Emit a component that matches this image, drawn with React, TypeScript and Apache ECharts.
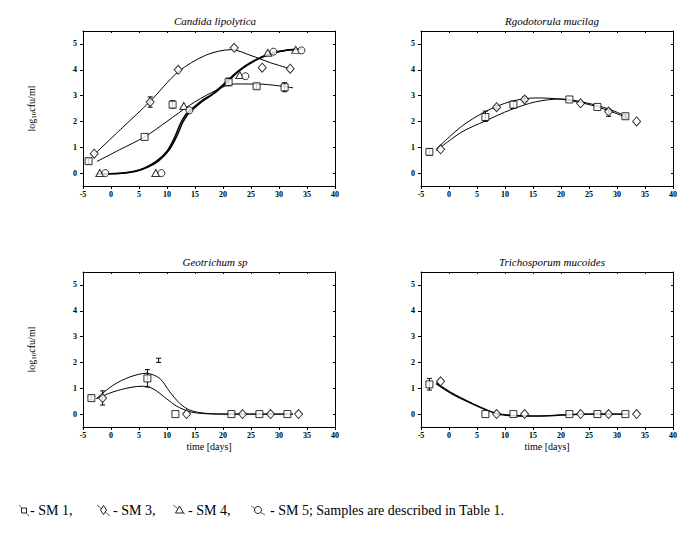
import React, { useEffect, useRef } from 'react';
import * as echarts from 'echarts';

const FONT = "'Liberation Serif', 'Times New Roman', serif";

const PANEL_TITLES = ['Candida lipolytica', 'Rgodotorula mucilag', 'Geotrichum sp', 'Trichosporum mucoides'];
const X_MIN = -5;
const X_MAX = 40;
const X_STEP = 5;
const Y_MIN = -0.5;
const Y_MAX = 5.5;
const Y_TICKS = [0, 1, 2, 3, 4, 5];
const Y_NAME = '{a|log}{s|10}{a|cfu/ml}';
const X_NAME = 'time [days]';

// ---- Candida lipolytica ----
const candidaSM1 = [[-4, 0.46], [6, 1.4], [11, 2.65], [21, 3.52], [26, 3.36], [31, 3.32]];
const candidaSM1Err = [[-4, 0.36, 0.56], [11, 2.52, 2.8], [21, 3.38, 3.68], [26, 3.28, 3.44], [31, 3.15, 3.5]];
const candidaSM3 = [[-3, 0.75], [7, 2.75], [12, 4.0], [22, 4.85], [27, 4.08], [32, 4.04]];
const candidaSM3Err = [[7, 2.55, 2.95]];
const candidaSM4 = [[-2, 0], [8, 0], [13, 2.6], [23, 3.8], [28, 4.66], [33, 4.77]];
const candidaSM5 = [[-1, 0], [9, 0], [14, 2.43], [24, 3.75], [29, 4.7], [34, 4.75]];
const candidaSM1Fit = [[-2.5, 0.45], [1.5, 0.9], [6, 1.4], [10, 2.0], [14, 2.62], [18, 3.12], [22, 3.45], [27, 3.44], [32.5, 3.3]];
const candidaSM3Fit = [[-3, 0.72], [2, 1.75], [7, 2.78], [12, 3.92], [17, 4.57], [21.5, 4.78], [25, 4.55], [28.5, 4.27], [32, 4.04]];
const candidaSM4Fit = [[-2.5, -0.03], [1, -0.02], [4, 0.06], [6, 0.2], [8, 0.44], [10, 0.85], [11.4, 1.4], [12.4, 1.92], [13.4, 2.28], [14.6, 2.52], [16.2, 2.8], [18, 3.05], [20, 3.42], [22.7, 3.95], [25.5, 4.35], [28.5, 4.63], [31, 4.74], [33, 4.78]];
const candidaSM5Fit = [[-1.5, -0.03], [1.5, -0.02], [4.5, 0.07], [6.5, 0.22], [8.5, 0.47], [10.4, 0.9], [11.8, 1.45], [12.8, 1.96], [13.8, 2.3], [15, 2.54], [16.6, 2.82], [18.4, 3.08], [20.4, 3.45], [23, 3.97], [26, 4.38], [29, 4.65], [31.5, 4.76], [34, 4.8]];

// ---- Rgodotorula mucilag ----
const rhodoSM1 = [[-3.5, 0.82], [6.5, 2.17], [11.5, 2.65], [21.5, 2.85], [26.5, 2.56], [31.5, 2.2]];
const rhodoSM1Err = [[-3.5, 0.72, 0.95], [6.5, 2.0, 2.4], [11.5, 2.5, 2.78], [31.5, 2.1, 2.28]];
const rhodoSM3 = [[-1.5, 0.92], [8.5, 2.55], [13.5, 2.85], [23.5, 2.7], [28.5, 2.38], [33.5, 2.0]];
const rhodoSM3Err = [[8.5, 2.48, 2.62], [13.5, 2.78, 2.95], [28.5, 2.2, 2.48]];
const rhodoSM1Fit = [[-2.3, 0.92], [2.2, 1.8], [6.5, 2.38], [11, 2.77], [15.5, 2.91], [20, 2.86], [24.5, 2.68], [28.5, 2.42], [32, 2.12]];
const rhodoSM3Fit = [[-2.3, 0.86], [2.2, 1.58], [6.5, 2.02], [11, 2.45], [15.5, 2.76], [20, 2.87], [24.5, 2.72], [28.5, 2.48], [32, 2.17]];

// ---- Geotrichum sp ----
const geoSM1 = [[-3.5, 0.62], [6.5, 1.38], [11.5, 0], [21.5, 0], [26.5, 0], [31.5, 0]];
const geoSM1Err = [[-3.5, 0.55, 0.7], [6.5, 1.05, 1.72]];
const geoSM3 = [[-1.5, 0.62], [13.5, 0], [23.5, 0], [28.5, 0], [33.5, 0]];
const geoSM3Err = [[-1.5, 0.35, 0.9], [8.5, 2.0, 2.16]];
const geoSM1Fit = [[-2.6, 0.6], [0.4, 1.12], [3.4, 1.44], [6.3, 1.58], [8.7, 1.38], [10.5, 0.86], [12.3, 0.41], [14.1, 0.15], [16.5, 0.04], [20, 0.0], [26, 0], [32.5, 0]];
const geoSM3Fit = [[-2.6, 0.6], [0.4, 0.86], [3.4, 1.03], [5.7, 1.08], [7.5, 0.98], [9.9, 0.6], [11.7, 0.31], [14.1, 0.09], [16.5, 0.02], [20, 0], [26, 0], [32.5, 0]];

// ---- Trichosporum mucoides ----
const trichoSM1 = [[-3.5, 1.15], [6.5, 0], [11.5, 0], [21.5, 0], [26.5, 0], [31.5, 0]];
const trichoSM1Err = [[-3.5, 0.93, 1.38]];
const trichoSM3 = [[-1.5, 1.27], [8.5, 0], [13.5, 0], [23.5, 0], [28.5, 0], [33.5, 0]];
const trichoSM1Fit = [[-2.3, 1.18], [0.4, 0.8], [3.4, 0.47], [6.4, 0.18], [8.7, 0.0], [11, -0.06], [14, -0.08], [18, -0.07], [21.8, -0.02], [25, 0], [32, 0]];
const trichoSM3Fit = [[-2.3, 1.22], [0.4, 0.84], [3.4, 0.5], [6.4, 0.2], [8.7, 0.02], [12, -0.05], [16, -0.07], [20, -0.03], [24, 0], [32, 0]];

const LEGEND_LABELS = ['- SM 1,', '- SM 3,', '- SM 4,', '- SM 5; Samples are described in Table 1.'];

const GRIDS = [
  { left: 83, top: 31, width: 252, height: 155 },
  { left: 421, top: 31, width: 252, height: 155 },
  { left: 83, top: 272, width: 252, height: 155 },
  { left: 421, top: 272, width: 252, height: 155 },
];
const TITLE_POS = [[210, 10], [547, 10], [210, 251], [547, 251]];

function renderErr(params: any, api: any) {
  const x = api.value(0);
  const lo = api.value(1);
  const hi = api.value(2);
  const a = api.coord([x, lo]);
  const b = api.coord([x, hi]);
  const w = 2.5;
  const style = { stroke: '#000', lineWidth: 1 };
  return {
    type: 'group',
    children: [
      { type: 'line', shape: { x1: a[0], y1: a[1], x2: b[0], y2: b[1] }, style },
      { type: 'line', shape: { x1: a[0] - w, y1: a[1], x2: a[0] + w, y2: a[1] }, style },
      { type: 'line', shape: { x1: b[0] - w, y1: b[1], x2: b[0] + w, y2: b[1] }, style },
    ],
  };
}

const SYMBOLS: Record<string, { symbol: string; size: any }> = {
  SM1: { symbol: 'rect', size: 7 },
  SM3: { symbol: 'diamond', size: [8, 9] },
  SM4: { symbol: 'triangle', size: [8, 7] },
  SM5: { symbol: 'circle', size: 7 },
};

function scatter(g: number, data: number[][], key: string) {
  return {
    type: 'scatter',
    xAxisIndex: g * 2,
    yAxisIndex: g * 2,
    data,
    symbol: SYMBOLS[key].symbol,
    symbolSize: SYMBOLS[key].size,
    itemStyle: { color: '#fff', borderColor: '#000', borderWidth: 1 },
    z: 4,
    silent: true,
  };
}
function fit(g: number, data: number[][], width = 1) {
  return {
    type: 'line',
    xAxisIndex: g * 2,
    yAxisIndex: g * 2,
    data,
    smooth: 0.3,
    showSymbol: false,
    symbol: 'none',
    lineStyle: { color: '#000', width },
    z: 2,
    silent: true,
  };
}
function err(g: number, data: number[][]) {
  return {
    type: 'custom',
    xAxisIndex: g * 2,
    yAxisIndex: g * 2,
    data,
    renderItem: renderErr,
    encode: { x: 0, y: [1, 2] },
    z: 3,
    silent: true,
  };
}

export default function App() {
  const ref = useRef<HTMLDivElement>(null);
  useEffect(() => {
    if (!ref.current) return;
    const chart = echarts.init(ref.current, undefined, { renderer: 'svg' });
    const axisLine = { show: true, onZero: false, lineStyle: { color: '#000', width: 1 } };
    const xAxes: any[] = [];
    const yAxes: any[] = [];
    GRIDS.forEach((_, g) => {
      const bottomRow = g >= 2;
      const leftCol = g % 2 === 0;
      xAxes.push({
        type: 'value', gridIndex: g, min: X_MIN, max: X_MAX, interval: X_STEP, position: 'bottom',
        axisLine, axisTick: { show: true, inside: false, length: 3, lineStyle: { color: '#000' } },
        axisLabel: { fontSize: 8, fontWeight: 'bold', fontFamily: FONT, color: '#000', margin: 4 },
        splitLine: { show: false },
        name: bottomRow ? X_NAME : '', nameLocation: 'middle', nameGap: 14,
        nameTextStyle: { fontSize: 10, fontFamily: FONT, color: '#000' },
      });
      xAxes.push({
        type: 'value', gridIndex: g, min: X_MIN, max: X_MAX, interval: X_STEP, position: 'top',
        axisLine, axisTick: { show: true, inside: true, length: 2, lineStyle: { color: '#000' } },
        axisLabel: { show: false }, splitLine: { show: false },
      });
      yAxes.push({
        type: 'value', gridIndex: g, min: Y_MIN, max: Y_MAX, position: 'left',
        axisLine, axisTick: { show: true, inside: false, length: 3, customValues: Y_TICKS, lineStyle: { color: '#000' } },
        axisLabel: { fontSize: 8, fontWeight: 'bold', fontFamily: FONT, color: '#000', margin: 6, customValues: Y_TICKS },
        splitLine: { show: false },
        name: leftCol ? Y_NAME : '', nameLocation: 'middle', nameGap: 46, nameRotate: 90,
        nameTextStyle: {
          color: '#000', fontFamily: FONT,
          rich: {
            a: { fontSize: 10, fontFamily: FONT, color: '#000' },
            s: { fontSize: 7, fontFamily: FONT, color: '#000', padding: [5, 0, 0, 0] },
          },
        },
      });
      yAxes.push({
        type: 'value', gridIndex: g, min: Y_MIN, max: Y_MAX, position: 'right',
        axisLine, axisTick: { show: true, inside: true, length: 2, customValues: Y_TICKS, lineStyle: { color: '#000' } },
        axisLabel: { show: false }, splitLine: { show: false },
      });
    });

    const series: any[] = [
      fit(0, candidaSM1Fit), fit(0, candidaSM3Fit), fit(0, candidaSM4Fit, 1.5), fit(0, candidaSM5Fit, 1.5),
      err(0, candidaSM1Err), err(0, candidaSM3Err),
      scatter(0, candidaSM1, 'SM1'), scatter(0, candidaSM3, 'SM3'), scatter(0, candidaSM4, 'SM4'), scatter(0, candidaSM5, 'SM5'),
      fit(1, rhodoSM1Fit), fit(1, rhodoSM3Fit),
      err(1, rhodoSM1Err), err(1, rhodoSM3Err),
      scatter(1, rhodoSM1, 'SM1'), scatter(1, rhodoSM3, 'SM3'),
      fit(2, geoSM1Fit), fit(2, geoSM3Fit),
      err(2, geoSM1Err), err(2, geoSM3Err),
      scatter(2, geoSM1, 'SM1'), scatter(2, geoSM3, 'SM3'),
      fit(3, trichoSM1Fit, 1.3), fit(3, trichoSM3Fit),
      err(3, trichoSM1Err),
      scatter(3, trichoSM1, 'SM1'), scatter(3, trichoSM3, 'SM3'),
    ];

    const iconStroke = { stroke: '#222', lineWidth: 1, fill: '#fff' };
    const slash = { stroke: '#666', lineWidth: 1 };
    const textStyle = (s: string) => ({ text: s, fontSize: 14, fontFamily: FONT, fill: '#000', verticalAlign: 'middle', align: 'left' });
    const graphic: any[] = [
      { type: 'line', shape: { x1: 19, y1: 505, x2: 29, y2: 516 }, style: slash, z: 1 },
      { type: 'rect', shape: { x: 21.5, y: 508, width: 5, height: 5 }, style: iconStroke, z: 2 },
      { type: 'text', x: 30, y: 510, style: textStyle(LEGEND_LABELS[0]) },
      { type: 'line', shape: { x1: 97, y1: 505, x2: 110, y2: 516 }, style: slash, z: 1 },
      { type: 'polygon', shape: { points: [[103.5, 505.5], [106.5, 510], [103.5, 514.5], [100.5, 510]] }, style: iconStroke, z: 2 },
      { type: 'text', x: 113, y: 510, style: textStyle(LEGEND_LABELS[1]) },
      { type: 'line', shape: { x1: 173, y1: 505, x2: 185, y2: 514 }, style: slash, z: 1 },
      { type: 'polygon', shape: { points: [[179.5, 506], [183.5, 513], [175.5, 513]] }, style: iconStroke, z: 2 },
      { type: 'text', x: 188, y: 510, style: textStyle(LEGEND_LABELS[2]) },
      { type: 'line', shape: { x1: 251, y1: 506, x2: 265, y2: 515 }, style: slash, z: 1 },
      { type: 'circle', shape: { cx: 258, cy: 510, r: 3.5 }, style: iconStroke, z: 2 },
      { type: 'text', x: 270, y: 510, style: textStyle(LEGEND_LABELS[3]) },
    ];

    chart.setOption({
      animation: false,
      backgroundColor: '#fff',
      textStyle: { fontFamily: FONT },
      title: PANEL_TITLES.map((t, i) => ({
        text: t, left: TITLE_POS[i][0], top: TITLE_POS[i][1], textAlign: 'center',
        textStyle: { fontSize: 11, fontStyle: 'italic', fontWeight: 'normal', fontFamily: FONT, color: '#000' },
      })),
      grid: GRIDS.map((g) => ({ ...g, containLabel: false })),
      xAxis: xAxes,
      yAxis: yAxes,
      series,
      graphic,
    });
    return () => chart.dispose();
  }, []);
  return <div ref={ref} style={{ position: 'absolute', left: 0, top: 0, width: 694, height: 535, background: '#fff' }} />;
}
